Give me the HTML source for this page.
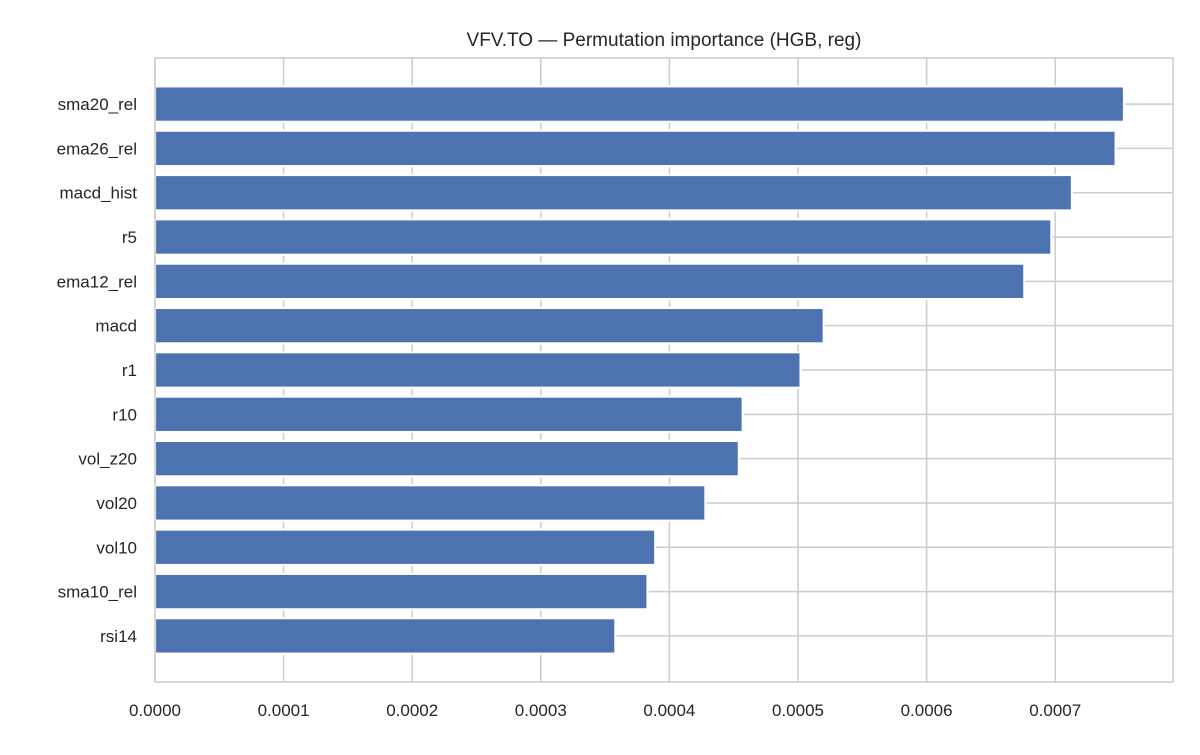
<!DOCTYPE html>
<html><head><meta charset="utf-8"><style>
body{margin:0;background:#fff;}
svg text{font-family:"Liberation Sans",sans-serif;fill:#262626;}
</style></head><body>
<svg id="chart" width="1200" height="750" xmlns="http://www.w3.org/2000/svg">
<text x="664" y="46" font-size="19" text-anchor="middle">VFV.TO — Permutation importance (HGB, reg)</text>
<g id="grid"></g><g id="bars"></g><g id="ticks"></g>
<rect x="155" y="58" width="1018" height="624" fill="none" stroke="#cccccc" stroke-width="1.5"/>
</svg>
<script>
const features = ["sma20_rel","ema26_rel","macd_hist","r5","ema12_rel","macd","r1","r10","vol_z20","vol20","vol10","sma10_rel","rsi14"];
const importances = [0.0007535,0.000747,0.000713,0.000697,0.000676,0.00052,0.000502,0.000457,0.000454,0.000428,0.000389,0.000383,0.000358];
const xTicks = [0,0.0001,0.0002,0.0003,0.0004,0.0005,0.0006,0.0007];
const xTickLabels = ["0.0000","0.0001","0.0002","0.0003","0.0004","0.0005","0.0006","0.0007"];
const NS="http://www.w3.org/2000/svg";
const L=155,R=1173,T=58,B=682;
const xMax=(R-L)/1286000;
function x(v){return L+v/xMax*(R-L);}
const step=(B-T)/(features.length+1.08);
function y(i){return T+(i+1.04)*step;}
function mk(tag,attrs,parent){const e=document.createElementNS(NS,tag);for(const k in attrs)e.setAttribute(k,attrs[k]);document.getElementById(parent).appendChild(e);return e;}
xTicks.forEach((t,i)=>{
  const g=mk('line',{x1:x(t),x2:x(t),y1:T,y2:B,stroke:'#cccccc','stroke-width':1.5},'grid');
  
  
  const tx=mk('text',{x:x(t),y:B+34,'font-size':17,'text-anchor':'middle'},'ticks');
  tx.textContent=xTickLabels[i];
  
  
});
features.forEach((f,i)=>{
  const g=mk('line',{x1:L,x2:R,y1:y(i),y2:y(i),stroke:'#cccccc','stroke-width':1.5},'grid');
  
  
  const h=step*0.8;
  const b=mk('rect',{x:L,y:y(i)-h/2,width:x(importances[i])-L,height:h,fill:'#4c72b0',stroke:'#ffffff','stroke-width':2.2},'bars');
  
  
  const tx=mk('text',{x:L-18,y:y(i)+6,'font-size':17,'text-anchor':'end'},'ticks');
  tx.textContent=f;
  
  
});
</script>
</body></html>
